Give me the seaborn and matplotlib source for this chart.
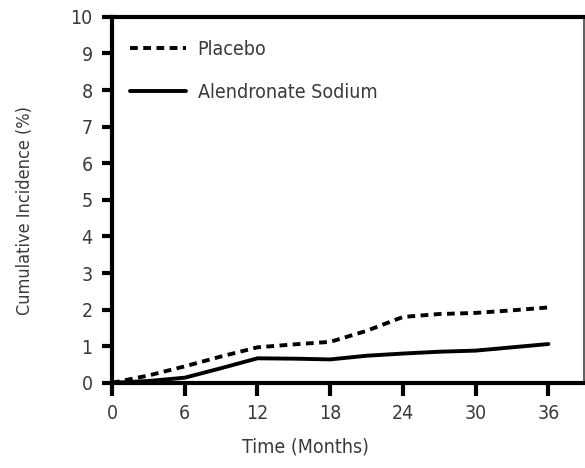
import pandas as pd
import matplotlib
matplotlib.use("Agg")
import matplotlib.pyplot as plt
from matplotlib import font_manager
import seaborn as sns

# Values
months = [0, 3, 6, 9, 12, 15, 18, 21, 24, 27, 30, 33, 36]
placebo = [0, 0.2, 0.45, 0.72, 0.97, 1.05, 1.12, 1.42, 1.8, 1.88, 1.91, 1.98, 2.06]
alendronate = [0, 0.05, 0.14, 0.4, 0.67, 0.66, 0.64, 0.74, 0.8, 0.85, 0.88, 0.97, 1.06]
series_names = ["Placebo", "Alendronate Sodium"]
x_ticks = [0, 6, 12, 18, 24, 30, 36]
y_ticks = list(range(0, 11))

df = pd.DataFrame({
    "Month": months * 2,
    "Incidence": placebo + alendronate,
    "Group": [series_names[0]] * len(months) + [series_names[1]] * len(months),
})

sns.set_style("ticks")

# look for a condensed face, the reference uses a narrow sans
narrow = [f for f in font_manager.fontManager.ttflist
          if ("Narrow" in f.name or "Condensed" in f.name or "condensed" in str(f.stretch))
          and f.style == "normal"]
fams = []
stretch = "normal"
if narrow:
    fams.append(narrow[0].name)
    stretch = narrow[0].stretch
fams += ["Liberation Sans", "DejaVu Sans"]
plt.rcParams["font.family"] = fams
plt.rcParams["font.stretch"] = stretch
text_color = "#3a3a3a"

fig = plt.figure(figsize=(5.85, 4.68), dpi=100)
ax = fig.add_axes([0.1915, 0.182, 0.806, 0.782])

sns.lineplot(
    data=df, x="Month", y="Incidence", hue="Group", style="Group",
    palette={series_names[0]: "black", series_names[1]: "black"},
    dashes={series_names[0]: (2.0, 1.4), series_names[1]: ""},
    linewidth=2.8, ax=ax,
)

ax.set_xlim(0, 38.9)
ax.set_ylim(0, 10)
ax.set_xticks(x_ticks)
ax.set_yticks(y_ticks)
ax.tick_params(axis="x", length=9, width=3, colors="black", labelcolor=text_color,
               labelsize=14, pad=6)
ax.tick_params(axis="y", length=7, width=3, colors="black", labelcolor=text_color,
               labelsize=14, pad=7)

for side in ["left", "bottom", "top"]:
    ax.spines[side].set_linewidth(3)
    ax.spines[side].set_color("black")
ax.spines["right"].set_linewidth(1.2)
ax.spines["right"].set_color("#444444")

ax.set_xlabel("Time (Months)", fontsize=14, color=text_color)
ax.xaxis.set_label_coords(0.41, -0.15)
ax.set_ylabel("Cumulative Incidence (%)", fontsize=13, color=text_color)
ax.yaxis.set_label_coords(-0.165, 0.47)

leg = ax.legend(loc="upper left", frameon=False, fontsize=14, handlelength=2.9,
                handletextpad=0.6, labelspacing=1.25, bbox_to_anchor=(0.0, 0.985))
for t in leg.get_texts():
    t.set_color(text_color)

fig.savefig("out.png", dpi=100)
